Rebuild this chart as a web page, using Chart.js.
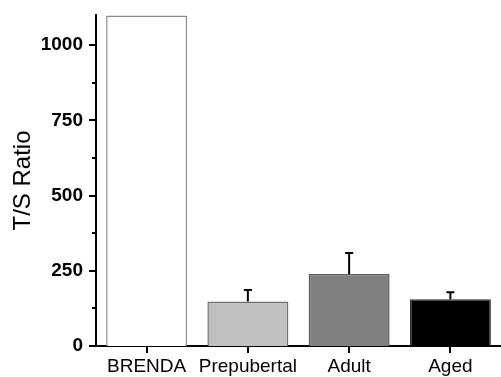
<!DOCTYPE html>
<html>
<head>
<meta charset="utf-8">
<script src="https://cdn.jsdelivr.net/npm/chart.js@4"></script>
<style>
  html, body { margin: 0; padding: 0; background: #fff; }
  #wrap { width: 501px; height: 377px; }
</style>
</head>
<body>
<div id="wrap"><canvas id="chart"></canvas></div>
<script>
// data
const groups = ['BRENDA', 'Prepubertal', 'Adult', 'Aged'];
const ratios = [1098, 148, 239, 155];
const errors = [0, 38, 70, 24];
const fills = ['#ffffff', '#c0c0c0', '#808080', '#000000'];
const edges = ['#8a8a8a', '#707070', '#5a5a5a', '#333333'];
const yMax = 1100;
const yStep = 125;
const labelStep = 250;
const lastTick = 1000;

// error bars (upper half only) + tick marks
const extras = {
  id: 'extras',
  afterDatasetsDraw(chart) {
    const ctx = chart.ctx;
    const x = chart.scales.x, y = chart.scales.y;
    ctx.save();
    ctx.strokeStyle = '#000';
    ctx.lineWidth = 2;
    ratios.forEach((v, i) => {
      if (!errors[i]) return;
      const cx = x.getPixelForValue(i);
      const y0 = y.getPixelForValue(v);
      const y1 = y.getPixelForValue(v + errors[i]);
      ctx.beginPath();
      ctx.moveTo(cx, y0);
      ctx.lineTo(cx, y1);
      ctx.moveTo(cx - 4, y1);
      ctx.lineTo(cx + 4, y1);
      ctx.stroke();
    });
    // y ticks: long at labelled values, short between
    const left = chart.chartArea.left;
    for (let v = 0; v <= lastTick; v += yStep) {
      const py = Math.round(y.getPixelForValue(v));
      const len = v % labelStep === 0 ? 7 : 4;
      ctx.beginPath();
      ctx.moveTo(left - len, py);
      ctx.lineTo(left, py);
      ctx.stroke();
    }
    // x ticks below axis
    const bottom = chart.chartArea.bottom;
    groups.forEach((g, i) => {
      const px = Math.round(x.getPixelForValue(i));
      ctx.beginPath();
      ctx.moveTo(px, bottom);
      ctx.lineTo(px, bottom + 7);
      ctx.stroke();
    });
    ctx.restore();
  }
};

new Chart(document.getElementById('chart'), {
  type: 'bar',
  data: {
    labels: groups,
    datasets: [{
      data: ratios,
      backgroundColor: fills,
      borderColor: edges,
      borderWidth: 1.5,
      categoryPercentage: 0.8,
      barPercentage: 1
    }]
  },
  options: {
    responsive: true,
    maintainAspectRatio: false,
    animation: false,
    layout: { padding: { top: 15, right: 0, left: 0, bottom: 0 } },
    plugins: { legend: { display: false }, tooltip: { enabled: false } },
    scales: {
      x: {
        grid: { display: false, drawTicks: false },
        border: { display: true, color: '#000', width: 2 },
        ticks: {
          color: '#000',
          padding: 9,
          maxRotation: 0,
          autoSkip: false,
          font: { family: 'Liberation Sans, Arial, sans-serif', size: 19 }
        },
        afterFit: s => { s.height = 31; s.paddingLeft = 0; s.paddingRight = 0; }
      },
      y: {
        min: 0,
        max: yMax,
        grid: { display: false, drawTicks: false },
        border: { display: true, color: '#000', width: 2 },
        afterBuildTicks: s => { s.ticks = s.ticks.filter(t => t.value <= lastTick); },
        ticks: {
          stepSize: yStep,
          color: '#000',
          padding: 13,
          autoSkip: false,
          font: { family: 'Liberation Sans, Arial, sans-serif', size: 19, weight: 'bold' },
          callback: v => (v % labelStep === 0) ? v : ''
        },
        title: {
          display: true,
          text: 'T/S Ratio',
          color: '#000',
          padding: { top: 9, bottom: 0 },
          font: { family: 'Liberation Sans, Arial, sans-serif', size: 24 }
        },
        afterFit: s => { s.width = 96; s.paddingTop = 0; s.paddingBottom = 0; }
      }
    }
  },
  plugins: [extras]
});
</script>
</body>
</html>
